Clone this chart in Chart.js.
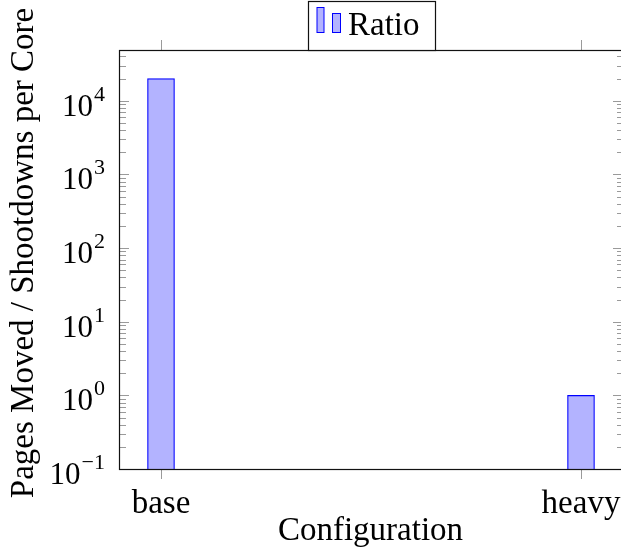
<!DOCTYPE html>
<html lang="en">
<head>
    <meta charset="UTF-8">
    <title>Pages Moved / Shootdowns per Core</title>
    <script src="https://cdn.jsdelivr.net/npm/chart.js"></script>
    <style>
        html, body {
            margin: 0;
            padding: 0;
            background: #ffffff;
            overflow: hidden;
            width: 621px;
            height: 550px;
        }
        canvas {
            display: block;
        }
    </style>
</head>
<body>
    <canvas id="ratioChart" width="623" height="550"></canvas>

    <script>
        // Data
        const categories = ['base', 'heavy'];
        const ratioValues = [20000, 1];
        const seriesLabel = 'Ratio';
        const yTickExponents = [-1, 0, 1, 2, 3, 4];
        const xTitle = 'Configuration';
        const yTitle = 'Pages Moved / Shootdowns per Core';

        const serif = '"Liberation Serif", "Times New Roman", serif';
        const barFill = '#b3b3ff';
        const barLine = '#0000ff';
        const tickGray = '#9a9a9a';

        // draws the pgfplots-style frame, ticks, labels and legend
        const pgfFrame = {
            id: 'pgfFrame',
            afterDatasetsDraw(chart) {
                const ctx = chart.ctx;
                const area = chart.chartArea;
                const xs = chart.scales.x;
                const ys = chart.scales.y;
                ctx.save();

                // y ticks, inside on both sides
                ctx.strokeStyle = tickGray;
                ctx.lineWidth = 1;
                const lastExp = Math.floor(Math.log10(ys.max));
                for (let e = yTickExponents[0]; e <= lastExp; e++) {
                    for (let m = 1; m < 10; m++) {
                        const v = m * Math.pow(10, e);
                        if (v < ys.min || v > ys.max) continue;
                        const py = Math.round(ys.getPixelForValue(v)) + 0.5;
                        const lenL = m === 1 ? 10 : 7;
                        const lenR = m === 1 ? 10 : 6;
                        ctx.beginPath();
                        ctx.moveTo(area.left, py);
                        ctx.lineTo(area.left + lenL, py);
                        ctx.moveTo(area.right, py);
                        ctx.lineTo(area.right - lenR, py);
                        ctx.stroke();
                    }
                }

                // x ticks, outside top and bottom
                categories.forEach((c, i) => {
                    const px = Math.round(xs.getPixelForValue(i)) + 0.5;
                    ctx.beginPath();
                    ctx.moveTo(px, area.bottom);
                    ctx.lineTo(px, area.bottom + 10);
                    ctx.moveTo(px, area.top);
                    ctx.lineTo(px, area.top - 10);
                    ctx.stroke();
                });

                // frame
                ctx.strokeStyle = '#111111';
                ctx.lineWidth = 1.2;
                ctx.strokeRect(area.left + 0.5, area.top + 0.5, area.right - area.left, area.bottom - area.top);

                // x tick labels
                ctx.fillStyle = '#000000';
                ctx.font = '33px ' + serif;
                ctx.textAlign = 'center';
                ctx.textBaseline = 'alphabetic';
                categories.forEach((c, i) => {
                    ctx.fillText(c, xs.getPixelForValue(i), 513);
                });

                // y tick labels as 10^n
                yTickExponents.forEach(e => {
                    const py = ys.getPixelForValue(Math.pow(10, e));
                    const expText = e < 0 ? '\u2212' + Math.abs(e) : String(e);
                    ctx.font = '22px ' + serif;
                    const expW = ctx.measureText(expText).width;
                    ctx.textAlign = 'right';
                    ctx.fillText(expText, 105, py);
                    ctx.font = '31px ' + serif;
                    ctx.fillText('10', 105 - expW - 1, py + 15);
                });

                // axis titles
                ctx.font = '33px ' + serif;
                ctx.textAlign = 'center';
                ctx.fillText(xTitle, 370.5, 540);
                ctx.save();
                ctx.translate(33, 253);
                ctx.rotate(-Math.PI / 2);
                ctx.fillText(yTitle, 0, 0);
                ctx.restore();

                // legend
                ctx.fillStyle = '#ffffff';
                ctx.fillRect(308.5, 1.5, 127, 49);
                ctx.strokeStyle = '#111111';
                ctx.lineWidth = 1.2;
                ctx.strokeRect(308.5, 1.5, 127, 49);
                ctx.fillStyle = barFill;
                ctx.strokeStyle = barLine;
                ctx.lineWidth = 1;
                ctx.fillRect(317, 7.5, 7, 25);
                ctx.strokeRect(317, 7.5, 7, 25);
                ctx.fillRect(332.5, 13.5, 8, 19);
                ctx.strokeRect(332.5, 13.5, 8, 19);
                ctx.fillStyle = '#000000';
                ctx.font = '33px ' + serif;
                ctx.textAlign = 'left';
                ctx.fillText(seriesLabel, 348, 35);

                ctx.restore();
            }
        };

        const ctx = document.getElementById('ratioChart').getContext('2d');
        new Chart(ctx, {
            type: 'bar',
            data: {
                datasets: [{
                    label: seriesLabel,
                    data: categories.map((c, i) => ({ x: i, y: ratioValues[i] })),
                    backgroundColor: barFill,
                    borderColor: barLine,
                    borderWidth: 1.2,
                    barThickness: 27
                }]
            },
            options: {
                responsive: false,
                animation: false,
                devicePixelRatio: 1,
                layout: {
                    padding: { left: 119, top: 50, right: 0, bottom: 81 }
                },
                plugins: {
                    legend: { display: false },
                    tooltip: { enabled: false }
                },
                scales: {
                    x: {
                        type: 'linear',
                        display: false,
                        offset: false,
                        min: -0.1,
                        max: 1.1
                    },
                    y: {
                        type: 'logarithmic',
                        display: false,
                        min: 0.1,
                        max: 49000
                    }
                }
            },
            plugins: [pgfFrame]
        });
    </script>
</body>
</html>
